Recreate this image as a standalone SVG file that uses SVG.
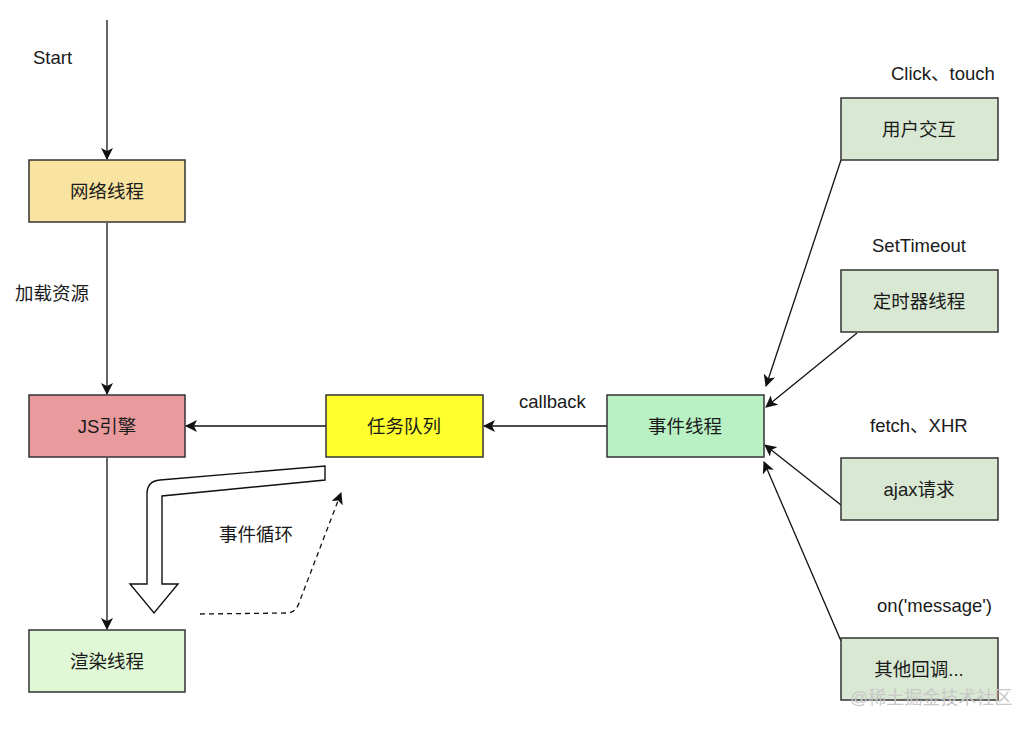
<svg xmlns="http://www.w3.org/2000/svg" width="1032" height="730" viewBox="0 0 1032 730">
<style>
.box{stroke:#333;stroke-width:1.5}
.t{font-family:"Liberation Sans","Noto Sans CJK SC",sans-serif;font-size:18.5px;fill:#1a1a1a}
.c{text-anchor:middle;dominant-baseline:central}
.ln{stroke:#111;stroke-width:1.3;fill:none}
</style>
<defs>
<marker id="ah" viewBox="0 0 12 12" refX="11" refY="6" markerWidth="12" markerHeight="12" markerUnits="userSpaceOnUse" orient="auto">
<path d="M0,0 L12,6 L0,12 L3,6 Z" fill="#111"/>
</marker>
</defs>
<rect width="1032" height="730" fill="#fff"/>

<g id="connectors">
<line class="ln" x1="107" y1="20" x2="107" y2="159" marker-end="url(#ah)"/>
<line class="ln" x1="107" y1="223" x2="107" y2="394" marker-end="url(#ah)"/>
<line class="ln" x1="107" y1="458" x2="107" y2="629" marker-end="url(#ah)"/>
<line class="ln" x1="326" y1="426" x2="186" y2="426" marker-end="url(#ah)"/>
<line class="ln" x1="607" y1="426" x2="484" y2="426" marker-end="url(#ah)"/>
<line class="ln" x1="841" y1="160" x2="766" y2="386" marker-end="url(#ah)"/>
<line class="ln" x1="857" y1="333" x2="766" y2="407" marker-end="url(#ah)"/>
<line class="ln" x1="841" y1="505" x2="765" y2="445" marker-end="url(#ah)"/>
<line class="ln" x1="841" y1="641" x2="764" y2="462" marker-end="url(#ah)"/>
<path class="ln" d="M200,614 L288,613 Q296,612 299,603 L341,493" stroke-dasharray="5,4" marker-end="url(#ah)"/>
<path d="M325,466 L325,480 L162,496 L162,584 L178,584 L154,613 L130,584 L147,584 L147,494 Q147,481 160,480 Z" fill="#fff" stroke="#111" stroke-width="1.4" stroke-linejoin="miter"/>
</g>

<g id="labels">
<text class="t" x="33" y="64">Start</text>
<text class="t" x="15" y="300">加载资源</text>
<text class="t" x="519" y="408">callback</text>
<text class="t" x="219" y="541">事件循环</text>
<text class="t" x="891" y="80">Click、touch</text>
<text class="t" x="872" y="252">SetTimeout</text>
<text class="t" x="870" y="432">fetch、XHR</text>
<text class="t" x="877" y="612">on('message')</text>
</g>

<g id="n-network"><rect class="box" x="29" y="160" width="156" height="62" fill="#f9e3a1"/><text class="t c" x="107" y="191">网络线程</text></g>
<g id="n-js"><rect class="box" x="29" y="395" width="156" height="62" fill="#e89a9c"/><text class="t c" x="107" y="426">JS引擎</text></g>
<g id="n-render"><rect class="box" x="29" y="630" width="156" height="62" fill="#e0f8d5"/><text class="t c" x="107" y="661">渲染线程</text></g>
<g id="n-queue"><rect class="box" x="326" y="395" width="157" height="62" fill="#ffff2e"/><text class="t c" x="404" y="426">任务队列</text></g>
<g id="n-event"><rect class="box" x="607" y="395" width="157" height="62" fill="#b9f1c5"/><text class="t c" x="685" y="426">事件线程</text></g>
<g id="n-user"><rect class="box" x="841" y="98" width="157" height="62" fill="#d9e8d3"/><text class="t c" x="919" y="129">用户交互</text></g>
<g id="n-timer"><rect class="box" x="841" y="270" width="157" height="62" fill="#d9e8d3"/><text class="t c" x="919" y="301">定时器线程</text></g>
<g id="n-ajax"><rect class="box" x="841" y="458" width="157" height="62" fill="#d9e8d3"/><text class="t c" x="919" y="489">ajax请求</text></g>
<g id="n-other"><rect class="box" x="841" y="638" width="157" height="62" fill="#d9e8d3"/><text class="t c" x="919" y="669">其他回调...</text></g>

<text x="850" y="704" font-family="Liberation Sans,'Noto Sans CJK SC',sans-serif" font-size="18" fill="#c8c8c8">@稀土掘金技术社区</text>
</svg>
